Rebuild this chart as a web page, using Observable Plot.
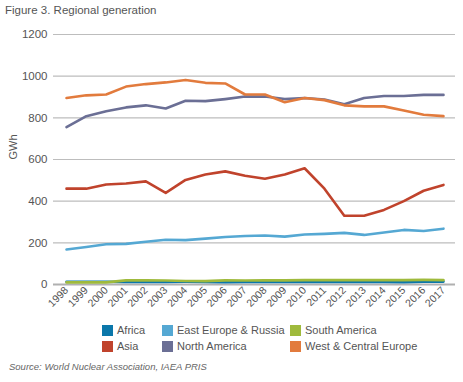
<!DOCTYPE html>
<html>
<head>
<meta charset="utf-8">
<script src="https://cdn.jsdelivr.net/npm/d3@7"></script>
<script src="https://cdn.jsdelivr.net/npm/@observablehq/plot@0.6"></script>
<style>
  body { margin: 0; background: #fff; font-family: "Liberation Sans", Arial, sans-serif; }
  #title { height: 20px; line-height: 20px; font-size: 11.5px; color: #555; padding-left: 5px; }
  #legend { display: grid; grid-template-columns: 60px 128px 150px; row-gap: 4px; margin-left: 102px; margin-top: 4px; font-size: 11px; color: #555; }
  .item { display: flex; align-items: center; height: 12px; white-space: nowrap; }
  .sw { width: 11px; height: 11px; margin-right: 4px; flex: none; }
  #source { font-size: 9.5px; font-style: italic; color: #666; padding-left: 9px; margin-top: 9px; }
</style>
</head>
<body>
<div id="title">Figure 3. Regional generation</div>
<div id="chart"></div>
<div id="legend"></div>
<div id="source">Source: World Nuclear Association, IAEA PRIS</div>
<script>
const years = [1998,1999,2000,2001,2002,2003,2004,2005,2006,2007,2008,2009,2010,2011,2012,2013,2014,2015,2016,2017];
const seriesNames = ["Africa","East Europe & Russia","South America","Asia","North America","West & Central Europe"];
const seriesColors = ["#0b77aa","#55a8d3","#9fba3c","#c0432c","#6b6f95","#e27b3d"];
const africa = [13,13,13,12,12,12,13,12,11,12,12,12,12,12,12,12,12,11,14,14];
const eastEurope = [168,180,193,195,205,215,213,220,228,233,235,230,240,243,248,238,250,262,257,268];
const southAmerica = [10,10,10,20,20,19,17,16,20,19,20,20,21,21,21,21,21,21,22,21];
const asia = [460,460,480,485,495,440,502,528,543,522,508,528,558,460,330,330,358,400,450,478];
const northAmerica = [755,808,832,850,860,845,882,880,890,902,902,890,895,888,865,895,905,905,910,910];
const westEurope = [895,908,912,950,962,970,982,968,965,912,912,875,895,885,860,855,855,835,815,808];
const yTicks = [0,200,400,600,800,1000,1200];

const allSeries = [africa, eastEurope, southAmerica, asia, northAmerica, westEurope];
const rows = [];
allSeries.forEach((vals, i) => vals.forEach((v, j) => rows.push({year: years[j], value: v, series: seriesNames[i]})));

const chart = Plot.plot({
  width: 463,
  height: 300,
  marginTop: 14,
  marginBottom: 36,
  marginLeft: 53,
  marginRight: 8,
  style: {fontFamily: '"Liberation Sans", Arial, sans-serif', color: "#555", fontSize: "11px"},
  x: {domain: [1998, 2017], insetLeft: 13, insetRight: 12},
  y: {domain: [0, 1200]},
  color: {domain: seriesNames, range: seriesColors},
  marks: [
    Plot.ruleY(yTicks.filter(d => d > 0), {stroke: "#bdbdbd", strokeWidth: 1.2}),
    Plot.ruleY([0], {stroke: "#b0b0b0", strokeWidth: 2}),
    Plot.axisY({ticks: yTicks, tickFormat: d => String(d), tickSize: 0, tickPadding: 6, label: null, fontSize: 11.5}),
    Plot.text(["GWh"], {frameAnchor: "left", dx: -40, rotate: -90, fontSize: 11, fill: "#555"}),
    Plot.axisX({ticks: years, tickFormat: d => String(d), tickSize: 0, tickRotate: -45, tickPadding: 4, label: null, fontSize: 10.5}),
    Plot.line(rows, {x: "year", y: "value", z: "series", stroke: "series", strokeWidth: 2.6})
  ]
});
document.getElementById("chart").appendChild(chart);

const legend = document.getElementById("legend");
seriesNames.forEach((name, i) => {
  const d = document.createElement("div");
  d.className = "item";
  d.innerHTML = `<span class="sw" style="background:${seriesColors[i]}"></span>${name}`;
  legend.appendChild(d);
});
</script>
</body>
</html>
